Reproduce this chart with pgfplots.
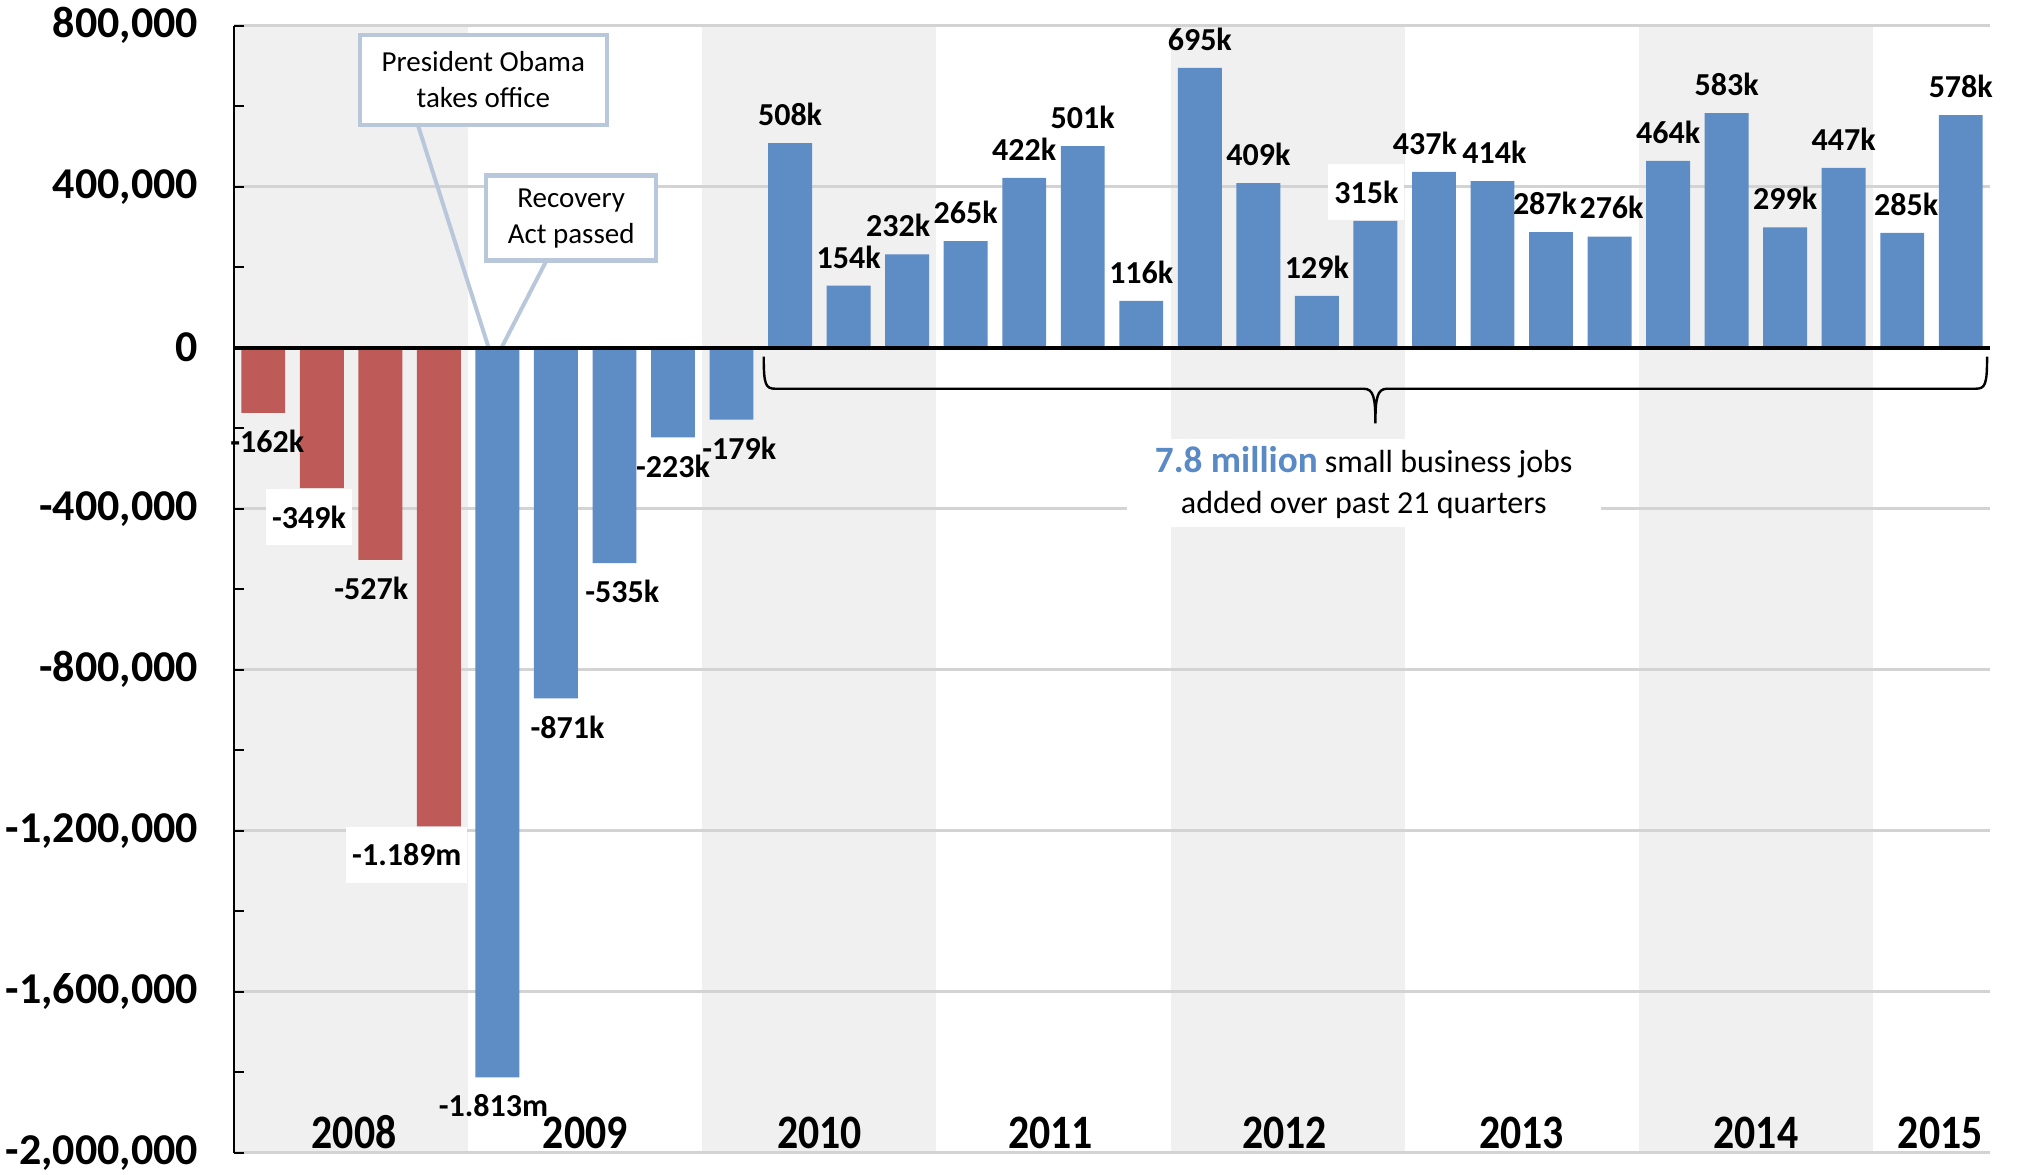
\documentclass[border=0pt]{standalone}
\usepackage{fontspec}
\setmainfont{Carlito}
\usepackage{graphicx}
\usepackage{pgfplots}
\usepackage{pgfplotstable}
\pgfplotsset{compat=1.18}
\usetikzlibrary{calc}
\definecolor{redbar}{HTML}{BE5B59}
\definecolor{bluebar}{HTML}{5E8CC4}
\definecolor{band}{HTML}{F0F0F0}
\definecolor{gridc}{HTML}{D3D3D3}
\definecolor{boxc}{HTML}{B8C8DA}
\definecolor{bluetext}{HTML}{5A8AC6}

% quarter, jobs added, label, label x-offset (pt), white label background
\pgfplotstableread{
x y label dx bg
1 -162000 -162k 2 0
2 -349000 -349k -6.4 1
3 -527000 -527k -4.5 0
4 -1189000 -1.189m -16 1
}\redq
\pgfplotstableread{
x y label dx bg
5 -1813000 -1.813m -2 0
6 -871000 -871k 5.8 0
7 -535000 -535k 3.9 0
8 -223000 -223k 0 0
9 -179000 -179k 3.9 0
}\bluelow
\pgfplotstableread{
x y label dx bg
10 508000 508k 0 0
11 154000 154k 0 0
12 232000 232k -4.5 0
13 265000 265k 0 0
14 422000 422k 0 0
15 501000 501k 0 0
16 116000 116k 0 0
17 695000 695k 0 0
18 409000 409k 0 0
19 129000 129k 0 0
20 315000 315k -4.5 1
21 437000 437k -4.5 0
22 414000 414k 1 0
23 287000 287k -3 0
24 276000 276k 1 0
25 464000 464k 0 0
26 583000 583k 0 0
27 299000 299k 0 0
28 447000 447k 0 0
29 285000 285k 2 0
30 578000 578k 0 0
}\bluehigh

\pgfplotsset{
  barlbl/.style={
    ybar, bar width=0.75, bar shift=0pt, draw=none,
    point meta=explicit symbolic,
    visualization depends on={\thisrow{dx} \as \lblx},
    visualization depends on={\thisrow{bg} \as \lblbg},
    nodes near coords={\pgfplotspointmeta},
    nodes near coords style={font=\fontsize{16}{19}\selectfont\bfseries, black,
      inner xsep=3pt, inner ysep=8.5pt, fill=white, fill opacity=\lblbg,
      text opacity=1, xshift=\lblx pt},
  },
}
\tikzset{yr/.style={font=\fontsize{24}{28}\selectfont\bfseries}}

\begin{document}
\begin{tikzpicture}
\begin{axis}[
  set layers,
  scale only axis,
  width=878pt, height=563.5pt,
  ybar,
  xmin=0.5, xmax=30.5,
  ymin=-2000000, ymax=800000,
  axis x line=none,
  axis y line*=left,
  y axis line style={-, line width=1.25pt, black},
  xtick=\empty,
  ytick={-2000000,-1600000,-1200000,-800000,-400000,0,400000,800000},
  minor y tick num=1,
  tick align=inside,
  major tick length=5pt, minor tick length=5pt,
  tick style={black, line width=1.1pt},
  ymajorgrids,
  major grid style={gridc, line width=1.3pt},
  scaled y ticks=false,
  yticklabel style={font=\fontsize{22}{26}\selectfont\bfseries, xshift=-14.5pt},
  /pgf/number format/fixed,
  /pgf/number format/1000 sep={,},
  /pgf/number format/assume math mode=true,
  clip=false,
]
\begin{pgfonlayer}{axis background}
\fill[band] (axis cs:0.5,-2000000) rectangle (axis cs:4.5,800000);
\fill[band] (axis cs:8.5,-2000000) rectangle (axis cs:12.5,800000);
\fill[band] (axis cs:16.5,-2000000) rectangle (axis cs:20.5,800000);
\fill[band] (axis cs:24.5,-2000000) rectangle (axis cs:28.5,800000);
\end{pgfonlayer}

% callout pointers
\draw[boxc, line width=2pt] (axis cs:3.64,554000) -- (axis cs:4.85,0);
\draw[boxc, line width=2pt] (axis cs:5.84,217000) -- (axis cs:5.07,0);

\addplot[barlbl, fill=redbar, nodes near coords align={below}] table[x=x, y=y, meta=label] {\redq};
\addplot[barlbl, fill=bluebar, nodes near coords align={below}] table[x=x, y=y, meta=label] {\bluelow};
\addplot[barlbl, fill=bluebar] table[x=x, y=y, meta=label] {\bluehigh};

\draw[black, line width=2pt] (axis cs:0.5,0) -- (axis cs:30.5,0);

\node[draw=boxc, line width=2.2pt, fill=white, align=center, inner sep=2pt,
  minimum width=123.5pt, minimum height=45pt, font=\fontsize{14.5}{18}\selectfont]
  at (axis cs:4.76,665000) {President Obama\\takes office};
\node[draw=boxc, line width=2.2pt, fill=white, align=center, inner sep=2pt,
  minimum width=85pt, minimum height=42.5pt, font=\fontsize{14.5}{18}\selectfont]
  at (axis cs:6.26,322000) {Recovery\\Act passed};

% brace over the 21 positive quarters
\draw[line width=1.2pt]
  (axis cs:9.55,-22000) .. controls (axis cs:9.55,-92000) and (axis cs:9.58,-102000) .. (axis cs:9.75,-102000)
  -- (axis cs:19.8,-102000)
  .. controls (axis cs:19.97,-102000) and (axis cs:20,-125000) .. (axis cs:20,-188000)
  .. controls (axis cs:20,-125000) and (axis cs:20.03,-102000) .. (axis cs:20.2,-102000)
  -- (axis cs:30.25,-102000)
  .. controls (axis cs:30.42,-102000) and (axis cs:30.45,-92000) .. (axis cs:30.45,-22000);
\node[fill=white, align=center, inner sep=0pt, minimum width=237pt, minimum height=44pt,
  font=\fontsize{16}{20.6}\selectfont]
  at (axis cs:19.8,-335000)
  {{\fontsize{18.6}{20.6}\selectfont\bfseries\color{bluetext}7.8 million} small business jobs\\added over past 21 quarters};

\node[yr] at (axis cs:2.55,-1950000) {\scalebox{0.87}[1]{2008}};
\node[yr] at (axis cs:6.5,-1950000) {\scalebox{0.87}[1]{2009}};
\node[yr] at (axis cs:10.5,-1950000) {\scalebox{0.87}[1]{2010}};
\node[yr] at (axis cs:14.45,-1950000) {\scalebox{0.87}[1]{2011}};
\node[yr] at (axis cs:18.45,-1950000) {\scalebox{0.87}[1]{2012}};
\node[yr] at (axis cs:22.5,-1950000) {\scalebox{0.87}[1]{2013}};
\node[yr] at (axis cs:26.5,-1950000) {\scalebox{0.87}[1]{2014}};
\node[yr] at (axis cs:29.65,-1950000) {\scalebox{0.87}[1]{2015}};
\end{axis}
\pgfresetboundingbox
\path[use as bounding box] ($(current axis.south west)+(-117pt,-11pt)$) rectangle ($(current axis.north east)+(13.5pt,12.85pt)$);
\end{tikzpicture}
\end{document}
